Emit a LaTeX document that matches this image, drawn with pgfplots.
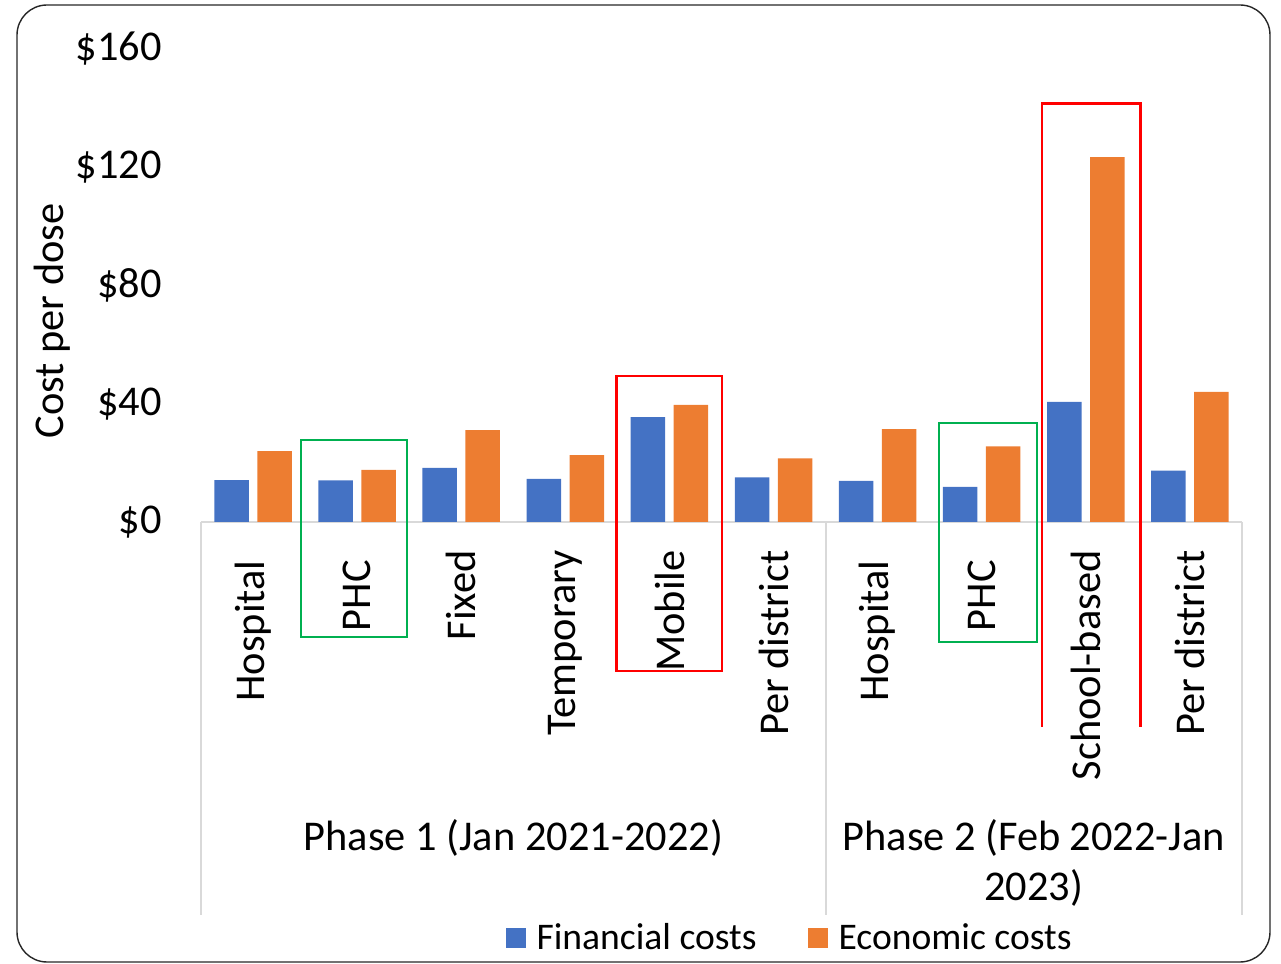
\documentclass[border=0pt]{standalone}
\usepackage{fontspec}
\setmainfont{Carlito}
\usepackage{pgfplots}
\pgfplotsset{compat=1.18}

\definecolor{finblue}{HTML}{4472C4}
\definecolor{ecoorange}{HTML}{ED7D31}
\definecolor{axisgray}{HTML}{D9D9D9}
\definecolor{boxred}{HTML}{FF0000}
\definecolor{boxgreen}{HTML}{00B050}

\newcommand{\labelfont}{\fontsize{21.2}{25}\selectfont}

\begin{document}
\begin{tikzpicture}[x=0.5pt,y=0.5pt]
\useasboundingbox (0,0) rectangle (1281,964);
% chart frame
\draw[line width=0.7pt, rounded corners=15pt, black!85] (17,2) rectangle (1270,959);

\begin{axis}[
  at={(100.5pt,221pt)}, anchor=south west,
  scale only axis, width=520.5pt, height=236.5pt,
  xmin=-0.5, xmax=9.5, ymin=0, ymax=160,
  clip=false,
  ybar=4.25pt, bar width=17.25pt,
  axis line style={draw=none},
  major tick length=0pt,
  ytick={0,40,80,120,160},
  yticklabels={\$0,\$40,\$80,\$120,\$160},
  yticklabel style={anchor=east, inner sep=0pt, xshift=-19.5pt},
  xtick={0,...,9},
  xticklabels={{Hospital\kern5pt},{PHC\kern5pt},Fixed,Temporary,Mobile,Per district,{Hospital\kern5pt},{PHC\kern5pt},School-based,Per district},
  xticklabel style={rotate=90, anchor=east, inner sep=0pt},
  xticklabel shift=14pt,
  tick label style={font=\labelfont},
  ylabel={Cost per dose},
  ylabel style={at={(axis description cs:-0.1431,0.425)}, anchor=center, font=\labelfont},
  legend style={at={(axis description cs:0.5663,-0.8795)}, anchor=center,
    draw=none, fill=none, legend columns=2, inner sep=0pt,
    font=\fontsize{18.8}{22}\selectfont,
    /tikz/every odd column/.append style={column sep=3.5pt},
    /tikz/every even column/.append style={column sep=23.5pt}},
  legend image code/.code={\fill[#1] (0pt,-5pt) rectangle (10pt,5pt);},
]
% category axis: baseline and phase separators
\draw[axisgray, line width=1pt] (axis cs:-0.5,0) -- (axis cs:9.5,0);
\draw[axisgray, line width=1pt] (axis cs:-0.5,0) -- (axis cs:-0.5,-132.9);
\draw[axisgray, line width=1pt] (axis cs:5.5,0) -- (axis cs:5.5,-132.9);
\draw[axisgray, line width=1pt] (axis cs:9.5,0) -- (axis cs:9.5,-132.9);

\addplot[fill=finblue, draw=none] coordinates {
  (0,14.2) (1,14.1) (2,18.3) (3,14.6) (4,35.5) (5,15.1)
  (6,13.9) (7,11.9) (8,40.6) (9,17.4)};
\addlegendentry{Financial costs}
\addplot[fill=ecoorange, draw=none] coordinates {
  (0,24.0) (1,17.6) (2,31.1) (3,22.6) (4,39.6) (5,21.5)
  (6,31.4) (7,25.6) (8,123.4) (9,44.0)};
\addlegendentry{Economic costs}

% highlighted delivery modes
\draw[boxgreen, line width=1pt] (axis cs:0.4635,-38.9) rectangle (axis cs:1.4817,27.6);
\draw[boxred, line width=1.3pt] (axis cs:3.489,-50.4) rectangle (axis cs:4.505,49.4);
\draw[boxgreen, line width=1pt] (axis cs:6.586,-40.6) rectangle (axis cs:7.531,33.6);
\draw[boxred, line width=1.3pt] (axis cs:7.579,-69.2) -- (axis cs:7.579,141.5)
  -- (axis cs:8.523,141.5) -- (axis cs:8.523,-69.2);

% phase group labels
\node[font=\labelfont] at (axis cs:2.5,-106.9) {Phase 1 (Jan 2021-2022)};
\node[font=\labelfont, align=center] at (axis cs:7.5,-115.4) {Phase 2 (Feb 2022-Jan\\2023)};
\end{axis}
\end{tikzpicture}
\end{document}
